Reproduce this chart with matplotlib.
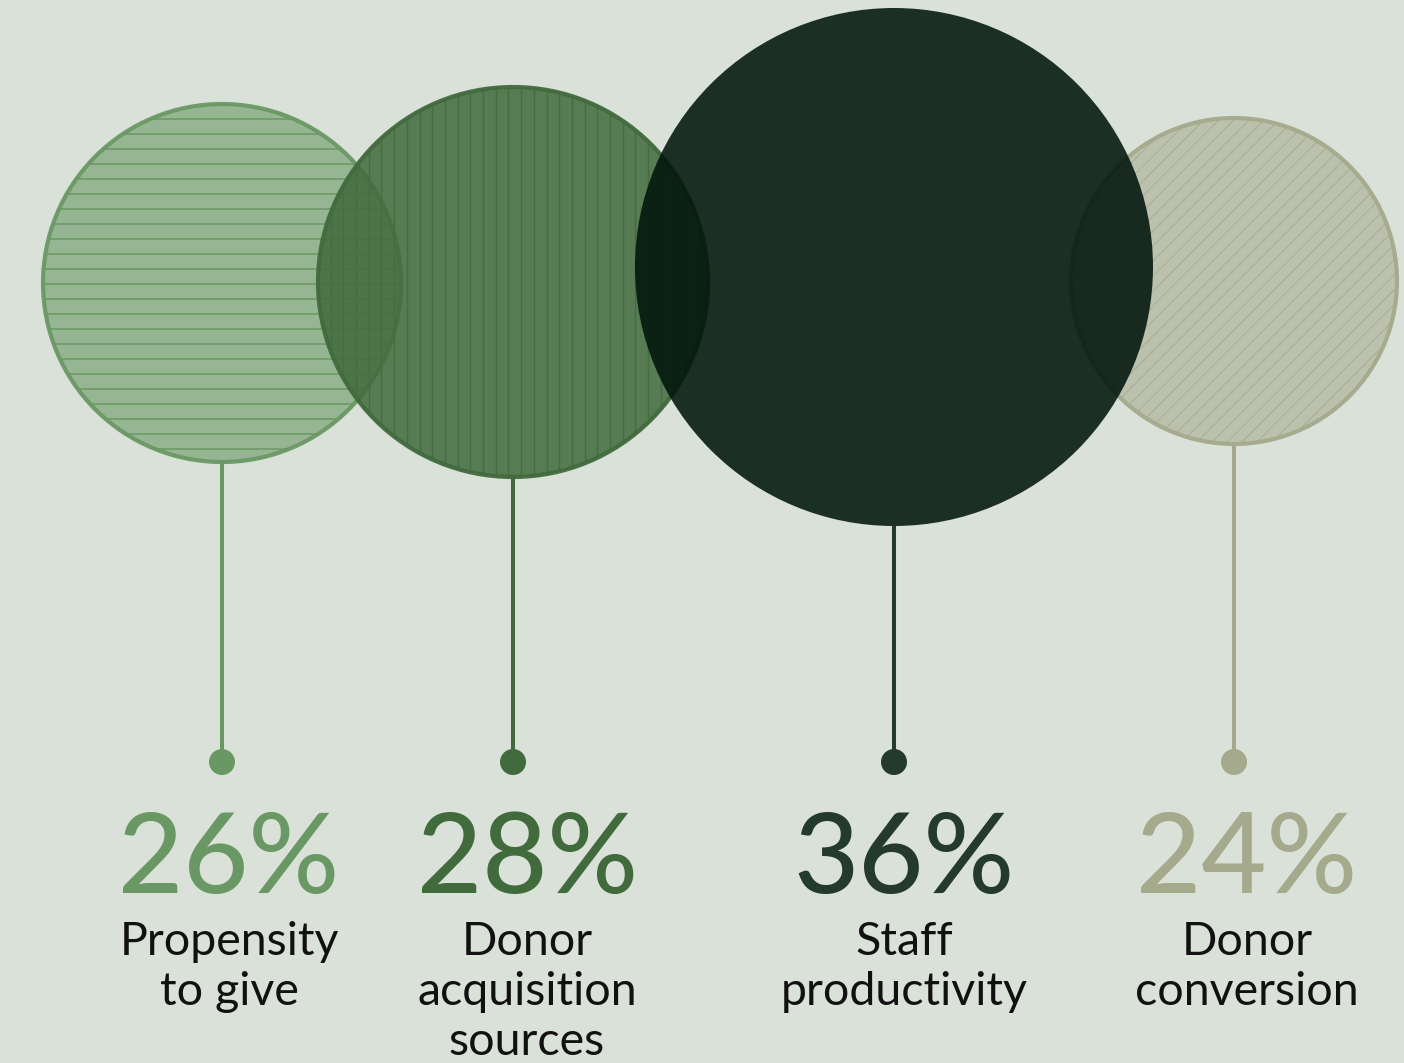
import numpy as np
import matplotlib
matplotlib.use("Agg")
import matplotlib.pyplot as plt
from matplotlib.patches import Circle
from matplotlib.collections import LineCollection

# ---- data ----
values = [26, 28, 36, 24]
pct_labels = ["26%", "28%", "36%", "24%"]
categories = [["Propensity", "to give"],
              ["Donor", "acquisition", "sources"],
              ["Staff", "productivity"],
              ["Donor", "conversion"]]

# ---- styling / layout ----
main_colors = ["#6a9864", "#416a3d", "#233a2c", "#a5aa8c"]
fill_colors = ["#6a9864", "#416a3d", "#00140a", "#a5aa8c"]
fill_alphas = [0.6, 0.86, 0.87, 0.57]
hatch_kind = ["h", "v", None, "d"]
hatch_gap = [15.0, 12.7, None, 15.0]
hatch_colors = ["#6a9864", "#456e3f", None, "#a9ae93"]
hatch_lw = [1.1, 1.0, 0, 0.8]
edge_on = [True, True, False, True]
cx = [222, 513, 894, 1234]
cy = [283, 282, 267, 281]
text_x = [229, 527, 904, 1247]
draw_order = [0, 1, 3, 2]
bg = "#dae1d9"

W, H = 1404, 1063
fig = plt.figure(figsize=(W / 100, H / 100), dpi=100, facecolor=bg)
ax = fig.add_axes([0, 0, 1, 1])
ax.set_xlim(0, W)
ax.set_ylim(H, 0)
ax.axis("off")
ax.set_facecolor(bg)

# radius scale from value
def rscale(v):
    return np.interp(v, [24, 36], [163, 259])

dot_y = 762
for z, i in enumerate(draw_order):
    r = rscale(values[i])
    circ = Circle((cx[i], cy[i]), r, facecolor=fill_colors[i], alpha=fill_alphas[i],
                  edgecolor="none", zorder=2 + z * 3)
    ax.add_patch(circ)
    if hatch_kind[i] is not None:
        segs = []
        g = hatch_gap[i]
        if hatch_kind[i] == "h":
            for yy in np.arange(cy[i] - r, cy[i] + r, g):
                segs.append([(cx[i] - r, yy), (cx[i] + r, yy)])
        elif hatch_kind[i] == "v":
            for xx in np.arange(cx[i] - r, cx[i] + r, g):
                segs.append([(xx, cy[i] - r), (xx, cy[i] + r)])
        else:
            c0 = cx[i] + cy[i]
            for c in np.arange(c0 - 2 * r, c0 + 2 * r, g):
                segs.append([(c - (cy[i] + r), cy[i] + r), (c - (cy[i] - r), cy[i] - r)])
        lc = LineCollection(segs, colors=hatch_colors[i], linewidths=hatch_lw[i],
                            zorder=2 + z * 3 + 1)
        ax.add_collection(lc)
        lc.set_clip_path(circ)
    if edge_on[i]:
        ax.add_patch(Circle((cx[i], cy[i]), r, facecolor="none", edgecolor=main_colors[i],
                            lw=3.0, alpha=0.95, zorder=2 + z * 3 + 2))

for i in range(len(values)):
    r = rscale(values[i])
    ax.plot([cx[i], cx[i]], [cy[i] + r, dot_y], color=main_colors[i], lw=2.9,
            solid_capstyle="butt", zorder=1)
    ax.add_patch(Circle((cx[i], dot_y), 13, facecolor=main_colors[i], edgecolor="none", zorder=1))
    ax.text(text_x[i], 893, pct_labels[i], ha="center", va="baseline",
            fontsize=81, color=main_colors[i], family="Lato", fontweight="medium")
    for k, line in enumerate(categories[i]):
        ax.text(text_x[i], 955 + k * 50, line, ha="center", va="baseline",
                fontsize=33.5, color="#111111", family="Lato", fontweight="normal")

fig.savefig("out.png", dpi=100, facecolor=bg)
